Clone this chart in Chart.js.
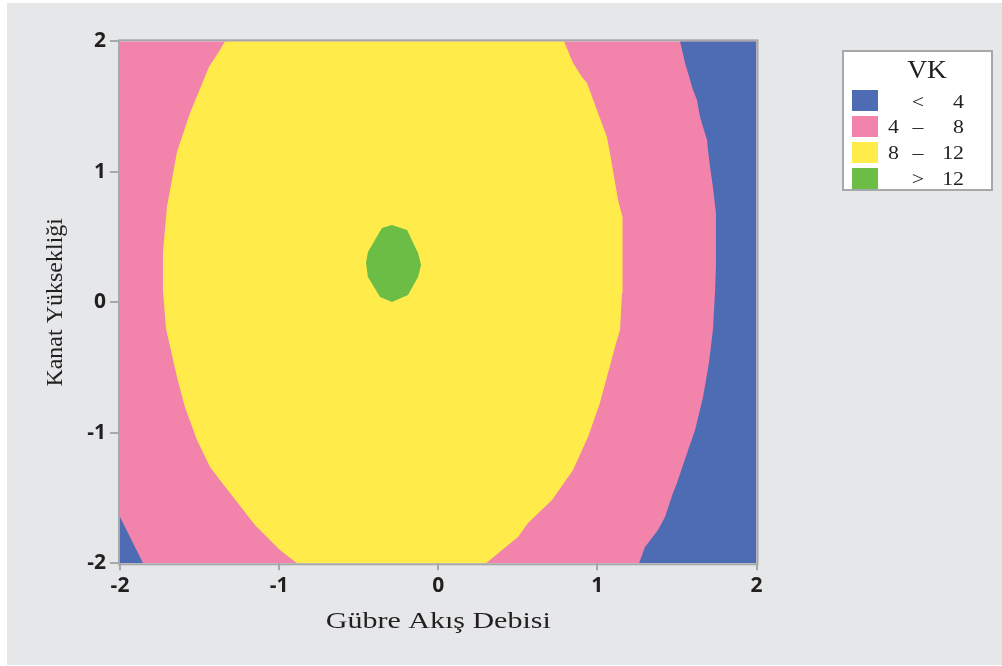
<!DOCTYPE html>
<html>
<head>
<meta charset="utf-8">
<script src="https://cdn.jsdelivr.net/npm/chart.js@4.4.1/dist/chart.umd.min.js"></script>
<style>
  html, body { margin: 0; padding: 0; background: #ffffff; }
  canvas { display: block; }
</style>
</head>
<body>
<canvas id="contour" width="1002" height="666"></canvas>
<script>
// Axis ticks
const xTickValues = [-2, -1, 0, 1, 2];
const yTickValues = [-2, -1, 0, 1, 2];

// Axis titles
const xTitle = 'Gübre Akış Debisi';
const yTitle = 'Kanat Yüksekliği';

// VK level bands (legend rows)
const legendTitle = 'VK';
const levelLow  = ['', '4', '8', ''];
const levelSign = ['<', '–', '–', '>'];
const levelHigh = ['4', '8', '12', '12'];
const levelColors = ['#4e6cb4', '#f283aa', '#ffec4b', '#6cbd45'];

// Whole design region (4 – 8 band underneath everything)
const regionPink = [
  {x: -2, y: -2}, {x: -2, y: 2}, {x: 2, y: 2}, {x: 2, y: -2}
];

// VK < 4 on the right side: contour 4 from top to bottom, then closed along x = 2
const regionBlueRight = [
  {x: 1.519, y: 2}, {x: 1.551, y: 1.834}, {x: 1.601, y: 1.627}, {x: 1.626, y: 1.550},
  {x: 1.645, y: 1.420}, {x: 1.689, y: 1.244}, {x: 1.695, y: 1.167}, {x: 1.708, y: 1.037},
  {x: 1.726, y: 0.883}, {x: 1.745, y: 0.684}, {x: 1.745, y: 0.270}, {x: 1.739, y: 0.071},
  {x: 1.726, y: -0.212}, {x: 1.701, y: -0.465}, {x: 1.664, y: -0.726}, {x: 1.614, y: -0.979},
  {x: 1.570, y: -1.132}, {x: 1.500, y: -1.385}, {x: 1.475, y: -1.461}, {x: 1.425, y: -1.645},
  {x: 1.381, y: -1.745}, {x: 1.299, y: -1.875}, {x: 1.262, y: -2},
  {x: 2, y: -2}, {x: 2, y: 2}
];

// VK < 4 in the lower-left corner
const regionBlueCorner = [
  {x: -2, y: -1.645}, {x: -1.855, y: -2}, {x: -2, y: -2}
];

// VK 8 – 12: closed contour 8
const regionYellow = [
  {x: -1.340, y: 2}, {x: -1.372, y: 1.933}, {x: -1.441, y: 1.803}, {x: -1.560, y: 1.451},
  {x: -1.642, y: 1.152}, {x: -1.705, y: 0.730}, {x: -1.730, y: 0.378}, {x: -1.730, y: 0.094},
  {x: -1.711, y: -0.200}, {x: -1.642, y: -0.572}, {x: -1.592, y: -0.802}, {x: -1.516, y: -1.055},
  {x: -1.434, y: -1.262}, {x: -1.372, y: -1.362}, {x: -1.152, y: -1.707}, {x: -0.995, y: -1.898},
  {x: -0.888, y: -2},
  {x: 0.300, y: -2}, {x: 0.501, y: -1.799}, {x: 0.564, y: -1.691}, {x: 0.715, y: -1.515},
  {x: 0.847, y: -1.285}, {x: 0.941, y: -1.032}, {x: 1.016, y: -0.772}, {x: 1.060, y: -0.572},
  {x: 1.123, y: -0.289}, {x: 1.142, y: -0.212}, {x: 1.155, y: 0.071}, {x: 1.161, y: 0.347},
  {x: 1.155, y: 0.654}, {x: 1.130, y: 0.784}, {x: 1.079, y: 1.144}, {x: 1.060, y: 1.267},
  {x: 1.004, y: 1.451}, {x: 0.935, y: 1.680}, {x: 0.903, y: 1.726}, {x: 0.847, y: 1.834},
  {x: 0.790, y: 2}
];

// VK > 12: small closed contour 12
const regionGreen = [
  {x: -0.291, y: 0.592}, {x: -0.196, y: 0.554}, {x: -0.127, y: 0.378}, {x: -0.108, y: 0.286},
  {x: -0.127, y: 0.194}, {x: -0.190, y: 0.056}, {x: -0.291, y: 0.002}, {x: -0.366, y: 0.041},
  {x: -0.442, y: 0.194}, {x: -0.454, y: 0.301}, {x: -0.442, y: 0.385}, {x: -0.354, y: 0.569}
];

const PAGE_GREY = '#e6e7e9';
const FRAME_GREY = '#a7a8aa';
const SERIF = '"Liberation Serif", "Times New Roman", serif';

function band(data, color, order) {
  return {
    data: data,
    showLine: true,
    fill: 'shape',
    backgroundColor: color,
    borderColor: color,
    borderWidth: 0,
    pointRadius: 0,
    pointHoverRadius: 0,
    tension: 0,
    order: order
  };
}

// Grey panel behind the chart
const panelPlugin = {
  id: 'panel',
  beforeDraw(chart) {
    const ctx = chart.ctx;
    ctx.save();
    ctx.fillStyle = '#ffffff';
    ctx.fillRect(0, 0, chart.width, chart.height);
    ctx.fillStyle = PAGE_GREY;
    ctx.fillRect(7, 3, chart.width - 7, chart.height - 4);
    ctx.restore();
  }
};

// Frame around the plotting region
const framePlugin = {
  id: 'frame',
  afterDatasetsDraw(chart) {
    const a = chart.chartArea;
    const ctx = chart.ctx;
    ctx.save();
    ctx.strokeStyle = FRAME_GREY;
    ctx.lineWidth = 2;
    ctx.strokeRect(a.left - 1, a.top - 1, a.right - a.left + 2, a.bottom - a.top + 2);
    ctx.restore();
  }
};

// Axis titles, set in a stretched serif face
const titlesPlugin = {
  id: 'axisTitles',
  afterDraw(chart) {
    const a = chart.chartArea;
    const ctx = chart.ctx;
    ctx.save();
    ctx.fillStyle = '#231f20';
    ctx.font = '24px ' + SERIF;
    ctx.textAlign = 'center';
    ctx.textBaseline = 'alphabetic';
    ctx.save();
    ctx.translate((a.left + a.right) / 2, 628);
    ctx.scale(1.25, 1);
    ctx.fillText(xTitle, 0, 0);
    ctx.restore();

    ctx.save();
    ctx.translate(62, (a.top + a.bottom) / 2);
    ctx.rotate(-Math.PI / 2);
    ctx.fillText(yTitle, 0, 0);
    ctx.restore();
    ctx.restore();
  }
};

// Boxed legend with the VK level bands
const legendPlugin = {
  id: 'vkLegend',
  afterDraw(chart) {
    const ctx = chart.ctx;
    const box = {x: 843, y: 51, w: 149, h: 139};
    ctx.save();
    ctx.fillStyle = '#ffffff';
    ctx.fillRect(box.x, box.y, box.w, box.h);
    ctx.strokeStyle = FRAME_GREY;
    ctx.lineWidth = 2;
    ctx.strokeRect(box.x, box.y, box.w, box.h);

    ctx.fillStyle = '#231f20';
    ctx.textBaseline = 'alphabetic';
    ctx.font = '25px ' + SERIF;
    ctx.textAlign = 'center';
    ctx.save();
    ctx.translate(927, 78);
    ctx.scale(1.1, 1);
    ctx.fillText(legendTitle, 0, 0);
    ctx.restore();

    ctx.font = '19px ' + SERIF;
    for (let i = 0; i < levelColors.length; i++) {
      const top = 90 + i * 26;
      const base = 107.5 + i * 25.7;
      ctx.fillStyle = levelColors[i];
      ctx.fillRect(852, top, 26, 21);
      ctx.fillStyle = '#231f20';
      const cols = [
        {t: levelLow[i], x: 899, align: 'right'},
        {t: levelSign[i], x: 918, align: 'center'},
        {t: levelHigh[i], x: 964, align: 'right'}
      ];
      for (const c of cols) {
        if (!c.t) continue;
        ctx.save();
        ctx.translate(c.x, base);
        ctx.scale(1.15, 1);
        ctx.textAlign = c.align;
        ctx.fillText(c.t, 0, 0);
        ctx.restore();
      }
    }
    ctx.restore();
  }
};

const tickFont = {family: '"Open Sans", "DejaVu Sans", sans-serif', size: 21, weight: '700'};

new Chart(document.getElementById('contour'), {
  type: 'scatter',
  data: {
    datasets: [
      band(regionGreen, levelColors[3], 1),
      band(regionYellow, levelColors[2], 2),
      band(regionBlueRight, levelColors[0], 3),
      band(regionBlueCorner, levelColors[0], 3),
      band(regionPink, levelColors[1], 4)
    ]
  },
  options: {
    responsive: false,
    animation: false,
    devicePixelRatio: 1,
    events: [],
    layout: {padding: {top: 41.3, right: 245.5, bottom: 0, left: 0}},
    plugins: {legend: {display: false}, tooltip: {enabled: false}},
    scales: {
      x: {
        type: 'linear',
        min: -2, max: 2,
        afterFit(scale) { scale.height = 102.7; },
        afterBuildTicks(scale) { scale.ticks = xTickValues.map(v => ({value: v})); },
        ticks: {font: tickFont, color: '#231f20', padding: 3, maxRotation: 0,
                callback: v => String(v)},
        grid: {drawOnChartArea: false, drawTicks: true, tickLength: 7, color: FRAME_GREY, lineWidth: 2},
        border: {display: false}
      },
      y: {
        type: 'linear',
        min: -2, max: 2,
        afterFit(scale) { scale.width = 120; },
        afterBuildTicks(scale) { scale.ticks = yTickValues.map(v => ({value: v})); },
        ticks: {font: tickFont, color: '#231f20', padding: 4,
                callback: v => String(v)},
        grid: {drawOnChartArea: false, drawTicks: true, tickLength: 10, color: FRAME_GREY, lineWidth: 2},
        border: {display: false}
      }
    }
  },
  plugins: [panelPlugin, framePlugin, titlesPlugin, legendPlugin]
});
</script>
</body>
</html>
